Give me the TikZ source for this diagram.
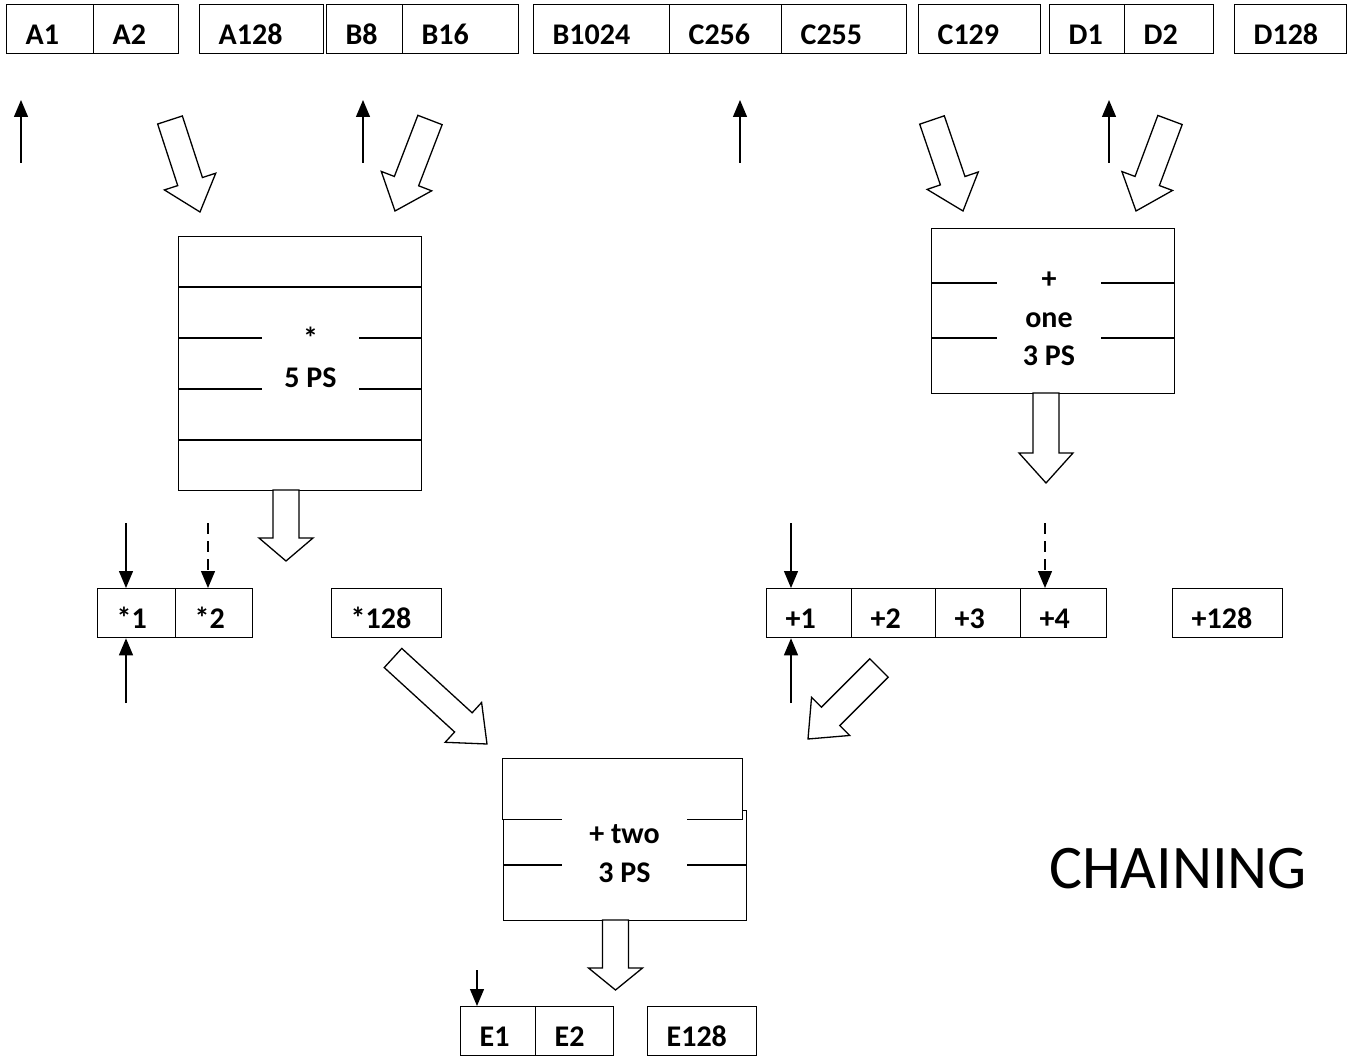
\documentclass[tikz,border=0pt]{standalone}
\usepackage{fontspec}
\setmainfont{Carlito}
\usetikzlibrary{arrows.meta,calc}

\tikzset{
  cell/.style={draw, line width=1.3pt, anchor=north west, minimum height=49pt,
    inner xsep=19pt, inner ysep=0pt, text height=40pt, text depth=9pt, align=left,
    font=\bfseries\fontsize{30}{36}\selectfont},
  unit/.style={draw, line width=1.3pt, anchor=north west, inner sep=0pt},
  rule/.style={line width=1.3pt},
  optext/.style={fill=white, inner sep=0pt, align=center,
    font=\bfseries\fontsize{30}{38.5}\selectfont},
  feed/.style={-{Triangle[length=17pt,width=14pt]}, line width=1.3pt},
  feeddash/.style={feed, dash pattern=on 11pt off 7pt},
  hollow/.style={draw, fill=white, line width=1.3pt, line join=miter}
}

% hollow block arrow from #2 to #3, head length #1
\newcommand{\blockarrow}[3][32]{%
  \draw[hollow] let \p1=($(#3)-(#2)$), \n1={atan2(\y1,\x1)}, \n2={veclen(\x1,\y1)} in
    [shift={(#2)}, rotate=\n1]
    (0,13) -- ({\n2-#1},13) -- ({\n2-#1},27) -- ({\n2},0)
    -- ({\n2-#1},-27) -- ({\n2-#1},-13) -- (0,-13) -- cycle;}

\begin{document}
\begin{tikzpicture}[x=1pt, y=-1pt]
  \useasboundingbox (0,0) rectangle (1351,1056);

  % input vectors
  \node[cell, text width=49pt] (a1) at (6,4) {A1};
  \node[cell, text width=47pt] (a2) at (93,4) {A2};
  \node[cell, text width=86pt] (a128) at (199,4) {A128};
  \node[cell, text width=38pt] (b8) at (326,4) {B8};
  \node[cell, text width=78pt] (b16) at (402,4) {B16};
  \node[cell, text width=98pt] (b1024) at (533,4) {B1024};
  \node[cell, text width=74pt] (c256) at (669,4) {C256};
  \node[cell, text width=87pt] (c255) at (781,4) {C255};
  \node[cell, text width=84pt] (c129) at (918,4) {C129};
  \node[cell, text width=37pt] (d1) at (1049,4) {D1};
  \node[cell, text width=51pt] (d2) at (1124,4) {D2};
  \node[cell, text width=74pt] (d128) at (1234,4) {D128};

  \coordinate (up1) at (21,163);   \coordinate (up1t) at (21,100);
  \coordinate (up2) at (363,163);  \coordinate (up2t) at (363,100);
  \coordinate (up3) at (740,163);  \coordinate (up3t) at (740,100);
  \coordinate (up4) at (1109,163); \coordinate (up4t) at (1109,100);
  \draw[feed] (up1) -- (up1t);
  \draw[feed] (up2) -- (up2t);
  \draw[feed] (up3) -- (up3t);
  \draw[feed] (up4) -- (up4t);

  \coordinate (ina) at (170,120);  \coordinate (inat) at (200,212);
  \coordinate (inb) at (430,120);  \coordinate (inbt) at (395,211);
  \coordinate (inc) at (932,120);  \coordinate (inct) at (963,211);
  \coordinate (ind) at (1170,120); \coordinate (indt) at (1136,211);
  \blockarrow{ina}{inat}
  \blockarrow{inb}{inbt}
  \blockarrow{inc}{inct}
  \blockarrow{ind}{indt}

  % multiply unit
  \node[unit, minimum width=243pt, minimum height=254pt] (mul) at (178,236) {};
  \draw[rule] (178,287) -- (421,287);
  \draw[rule] (178,338) -- (421,338);
  \draw[rule] (178,389) -- (421,389);
  \draw[rule] (178,440) -- (421,440);
  \node[optext, minimum width=97pt, minimum height=70pt] (multxt) at (310.5,357.5) {*\\5 PS};

  % add unit one
  \node[unit, minimum width=243pt, minimum height=165pt] (addone) at (931,228) {};
  \draw[rule] (931,283) -- (1174,283);
  \draw[rule] (931,338) -- (1174,338);
  \node[optext, minimum width=104pt, minimum height=100pt] (onetxt) at (1049,319) {+\\one\\3 PS};

  \coordinate (mulout) at (286,490);  \coordinate (mulend) at (286,561);
  \coordinate (oneout) at (1046,393); \coordinate (oneend) at (1046,483);
  \blockarrow[23]{mulout}{mulend}
  \blockarrow[30]{oneout}{oneend}

  % partial results
  \node[cell, text width=40pt] (m1) at (97,588) {*1};
  \node[cell, text width=39pt] (m2) at (175,588) {*2};
  \node[cell, text width=72pt] (m128) at (331,588) {*128};
  \node[cell, text width=47pt] (p1) at (766,588) {+1};
  \node[cell, text width=46pt] (p2) at (851,588) {+2};
  \node[cell, text width=47pt] (p3) at (935,588) {+3};
  \node[cell, text width=48pt] (p4) at (1020,588) {+4};
  \node[cell, text width=72pt] (p128) at (1172,588) {+128};

  \coordinate (m1in) at (126,523);  \coordinate (m2in) at (208,523);
  \coordinate (m1up) at (126,703);
  \coordinate (p1in) at (791,523);  \coordinate (p4in) at (1045,523);
  \coordinate (p1up) at (791,703);
  \draw[feed] (m1in) -- (m1in |- m1.north);
  \draw[feeddash] (m2in) -- (m2in |- m2.north);
  \draw[feed] (m1up) -- (m1up |- m1.south);
  \draw[feed] (p1in) -- (p1in |- p1.north);
  \draw[feeddash] (p4in) -- (p4in |- p4.north);
  \draw[feed] (p1up) -- (p1up |- p1.south);

  \coordinate (mulres) at (393,658); \coordinate (mulrest) at (487,744);
  \coordinate (oneres) at (879,668); \coordinate (onerest) at (808,739);
  \blockarrow{mulres}{mulrest}
  \blockarrow{oneres}{onerest}

  % add unit two
  \node[unit, minimum width=243pt, minimum height=110pt] (twolow) at (503,810) {};
  \node[unit, fill=white, minimum width=240pt, minimum height=61pt] (twoup) at (502,758) {};
  \draw[rule] (503,865) -- (746,865);
  \node[optext, minimum width=125pt, minimum height=80pt] (twotxt) at (624.5,853.5) {+ two\\3 PS};

  \coordinate (twoout) at (615.5,920); \coordinate (twoend) at (615.5,990);
  \blockarrow[22]{twoout}{twoend}

  % result vector
  \node[cell, text width=37pt] (e1) at (460,1006) {E1};
  \node[cell, text width=40pt] (e2) at (535,1006) {E2};
  \node[cell, text width=71pt] (e128) at (647,1006) {E128};
  \coordinate (e1in) at (477,970);
  \draw[feed] (e1in) -- (e1in |- e1.north);

  \node[anchor=base, font=\fontsize{62}{70}\selectfont] (title) at (1178,888) {CHAINING};
\end{tikzpicture}
\end{document}
